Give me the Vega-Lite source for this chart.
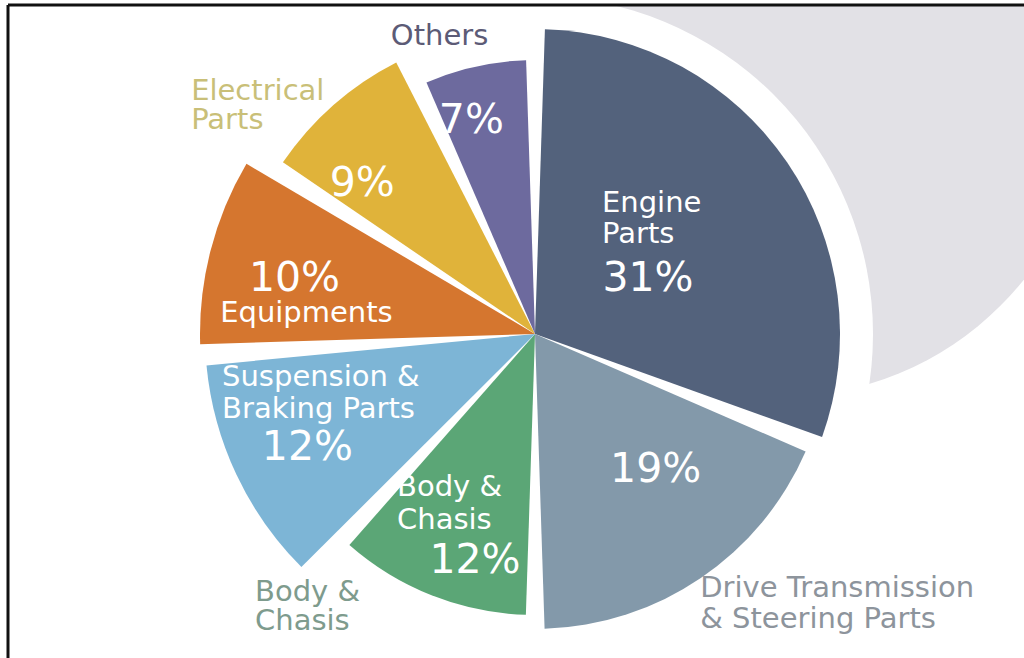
{
 "$schema": "https://vega.github.io/schema/vega-lite/v6.json",
 "width": 1016, "height": 653,
 "padding": {"left": 8, "top": 5, "right": 0, "bottom": 0},
 "autosize": {"type": "none"},
 "background": "white",
 "config": {"view": {"stroke": null}, "text": {"font": "DejaVu Sans"}},
 "data": {"values": [
  {"category": "Engine Parts", "value": 31, "pct": "31%", "inner": "Engine\nParts", "outer": ""},
  {"category": "Drive Transmission & Steering Parts", "value": 19, "pct": "19%", "inner": "", "outer": "Drive Transmission\n& Steering Parts"},
  {"category": "Body & Chasis", "value": 12, "pct": "12%", "inner": "Body &\nChasis", "outer": "Body &\nChasis"},
  {"category": "Suspension & Braking Parts", "value": 12, "pct": "12%", "inner": "Suspension &\nBraking Parts", "outer": ""},
  {"category": "Equipments", "value": 10, "pct": "10%", "inner": "Equipments", "outer": ""},
  {"category": "Electrical Parts", "value": 9, "pct": "9%", "inner": "", "outer": "Electrical\nParts"},
  {"category": "Others", "value": 7, "pct": "7%", "inner": "", "outer": "Others"}
 ]},
 "layer": [
  {"data": {"values": [{}]}, "mark": {"type": "arc", "theta": 0, "theta2": 6.2832, "outerRadius": 312, "color": "#e2e1e6", "clip": true},
   "encoding": {"x": {"datum": 780, "type": "quantitative", "scale": {"domain": [8, 1024], "nice": false, "zero": false}, "axis": null},
                "y": {"datum": 85, "type": "quantitative", "scale": {"domain": [5, 658], "nice": false, "zero": false, "reverse": true}, "axis": null}}},
  {"data": {"values": [{}]}, "mark": {"type": "arc", "theta": 0, "theta2": 6.2832, "outerRadius": 338, "color": "white"},
   "encoding": {"x": {"datum": 535, "type": "quantitative", "scale": {"domain": [8, 1024], "nice": false, "zero": false}, "axis": null},
                "y": {"datum": 334, "type": "quantitative", "scale": {"domain": [5, 658], "nice": false, "zero": false, "reverse": true}, "axis": null}}},
  {"transform": [{"stack": "value", "groupby": [], "sort": [{"field": "value", "order": "descending"}, {"field": "category", "order": "ascending"}], "as": ["start", "end"]}, {"filter": "datum.category === 'Engine Parts'"}],
   "mark": {"type": "arc", "outerRadius": 305, "padAngle": 0.065},
   "encoding": {"x": {"datum": 535, "type": "quantitative", "scale": {"domain": [8, 1024], "nice": false, "zero": false}, "axis": null},
                "y": {"datum": 334, "type": "quantitative", "scale": {"domain": [5, 658], "nice": false, "zero": false, "reverse": true}, "axis": null},
                "theta": {"field": "start", "type": "quantitative", "stack": null, "scale": {"domain": [0, 100]}}, "theta2": {"field": "end"},
                "color": {"field": "category", "type": "nominal", "legend": null, "scale": {"domain": ["Engine Parts", "Drive Transmission & Steering Parts", "Body & Chasis", "Suspension & Braking Parts", "Equipments", "Electrical Parts", "Others"], "range": ["#53627c", "#8399aa", "#5ba676", "#7db5d6", "#d5762f", "#e0b33a", "#6d6a9e"]}}}},
  {"transform": [{"stack": "value", "groupby": [], "sort": [{"field": "value", "order": "descending"}, {"field": "category", "order": "ascending"}], "as": ["start", "end"]}, {"filter": "datum.category === 'Drive Transmission & Steering Parts'"}],
   "mark": {"type": "arc", "outerRadius": 295, "padAngle": 0.065},
   "encoding": {"x": {"datum": 535, "type": "quantitative", "scale": {"domain": [8, 1024], "nice": false, "zero": false}, "axis": null},
                "y": {"datum": 334, "type": "quantitative", "scale": {"domain": [5, 658], "nice": false, "zero": false, "reverse": true}, "axis": null},
                "theta": {"field": "start", "type": "quantitative", "stack": null, "scale": {"domain": [0, 100]}}, "theta2": {"field": "end"},
                "color": {"field": "category", "type": "nominal", "legend": null}}},
  {"transform": [{"stack": "value", "groupby": [], "sort": [{"field": "value", "order": "descending"}, {"field": "category", "order": "ascending"}], "as": ["start", "end"]}, {"filter": "datum.category === 'Body & Chasis'"}],
   "mark": {"type": "arc", "outerRadius": 281, "padAngle": 0.065},
   "encoding": {"x": {"datum": 535, "type": "quantitative", "scale": {"domain": [8, 1024], "nice": false, "zero": false}, "axis": null},
                "y": {"datum": 334, "type": "quantitative", "scale": {"domain": [5, 658], "nice": false, "zero": false, "reverse": true}, "axis": null},
                "theta": {"field": "start", "type": "quantitative", "stack": null, "scale": {"domain": [0, 100]}}, "theta2": {"field": "end"},
                "color": {"field": "category", "type": "nominal", "legend": null}}},
  {"transform": [{"stack": "value", "groupby": [], "sort": [{"field": "value", "order": "descending"}, {"field": "category", "order": "ascending"}], "as": ["start", "end"]}, {"filter": "datum.category === 'Suspension & Braking Parts'"}],
   "mark": {"type": "arc", "outerRadius": 330, "padAngle": 0.065},
   "encoding": {"x": {"datum": 535, "type": "quantitative", "scale": {"domain": [8, 1024], "nice": false, "zero": false}, "axis": null},
                "y": {"datum": 334, "type": "quantitative", "scale": {"domain": [5, 658], "nice": false, "zero": false, "reverse": true}, "axis": null},
                "theta": {"field": "start", "type": "quantitative", "stack": null, "scale": {"domain": [0, 100]}}, "theta2": {"field": "end"},
                "color": {"field": "category", "type": "nominal", "legend": null}}},
  {"transform": [{"stack": "value", "groupby": [], "sort": [{"field": "value", "order": "descending"}, {"field": "category", "order": "ascending"}], "as": ["start", "end"]}, {"filter": "datum.category === 'Equipments'"}],
   "mark": {"type": "arc", "outerRadius": 335, "padAngle": 0.065},
   "encoding": {"x": {"datum": 535, "type": "quantitative", "scale": {"domain": [8, 1024], "nice": false, "zero": false}, "axis": null},
                "y": {"datum": 334, "type": "quantitative", "scale": {"domain": [5, 658], "nice": false, "zero": false, "reverse": true}, "axis": null},
                "theta": {"field": "start", "type": "quantitative", "stack": null, "scale": {"domain": [0, 100]}}, "theta2": {"field": "end"},
                "color": {"field": "category", "type": "nominal", "legend": null}}},
  {"transform": [{"stack": "value", "groupby": [], "sort": [{"field": "value", "order": "descending"}, {"field": "category", "order": "ascending"}], "as": ["start", "end"]}, {"filter": "datum.category === 'Electrical Parts'"}],
   "mark": {"type": "arc", "outerRadius": 305, "padAngle": 0.065},
   "encoding": {"x": {"datum": 535, "type": "quantitative", "scale": {"domain": [8, 1024], "nice": false, "zero": false}, "axis": null},
                "y": {"datum": 334, "type": "quantitative", "scale": {"domain": [5, 658], "nice": false, "zero": false, "reverse": true}, "axis": null},
                "theta": {"field": "start", "type": "quantitative", "stack": null, "scale": {"domain": [0, 100]}}, "theta2": {"field": "end"},
                "color": {"field": "category", "type": "nominal", "legend": null}}},
  {"transform": [{"stack": "value", "groupby": [], "sort": [{"field": "value", "order": "descending"}, {"field": "category", "order": "ascending"}], "as": ["start", "end"]}, {"filter": "datum.category === 'Others'"}],
   "mark": {"type": "arc", "outerRadius": 274, "padAngle": 0.065},
   "encoding": {"x": {"datum": 535, "type": "quantitative", "scale": {"domain": [8, 1024], "nice": false, "zero": false}, "axis": null},
                "y": {"datum": 334, "type": "quantitative", "scale": {"domain": [5, 658], "nice": false, "zero": false, "reverse": true}, "axis": null},
                "theta": {"field": "start", "type": "quantitative", "stack": null, "scale": {"domain": [0, 100]}}, "theta2": {"field": "end"},
                "color": {"field": "category", "type": "nominal", "legend": null}}},

  {"transform": [{"stack": "value", "groupby": [], "sort": [{"field": "value", "order": "descending"}, {"field": "category", "order": "ascending"}], "as": ["start", "end"]}, {"filter": "datum.category === 'Engine Parts'"}],
   "mark": {"type": "text", "dx": 113, "dy": 0, "align": "center", "baseline": "middle", "fontSize": 41, "color": "white"},
   "encoding": {"x": {"datum": 535, "type": "quantitative", "scale": {"domain": [8, 1024], "nice": false, "zero": false}, "axis": null},
                "y": {"datum": 334, "type": "quantitative", "scale": {"domain": [5, 658], "nice": false, "zero": false, "reverse": true}, "axis": null},
                "theta": {"field": "start", "type": "quantitative", "stack": null, "scale": {"domain": [0, 100]}},
                "radius": {"value": 55}, "text": {"field": "pct"}}},
  {"transform": [{"stack": "value", "groupby": [], "sort": [{"field": "value", "order": "descending"}, {"field": "category", "order": "ascending"}], "as": ["start", "end"]}, {"filter": "datum.category === 'Drive Transmission & Steering Parts'"}],
   "mark": {"type": "text", "dx": -30, "dy": 76, "align": "center", "baseline": "middle", "fontSize": 41, "color": "white"},
   "encoding": {"x": {"datum": 535, "type": "quantitative", "scale": {"domain": [8, 1024], "nice": false, "zero": false}, "axis": null},
                "y": {"datum": 334, "type": "quantitative", "scale": {"domain": [5, 658], "nice": false, "zero": false, "reverse": true}, "axis": null},
                "theta": {"field": "start", "type": "quantitative", "stack": null, "scale": {"domain": [0, 100]}},
                "radius": {"value": 162}, "text": {"field": "pct"}}},
  {"transform": [{"stack": "value", "groupby": [], "sort": [{"field": "value", "order": "descending"}, {"field": "category", "order": "ascending"}], "as": ["start", "end"]}, {"filter": "datum.category === 'Body & Chasis'"}],
   "mark": {"type": "text", "dx": -60, "dy": 0, "align": "center", "baseline": "middle", "fontSize": 41, "color": "white"},
   "encoding": {"x": {"datum": 535, "type": "quantitative", "scale": {"domain": [8, 1024], "nice": false, "zero": false}, "axis": null},
                "y": {"datum": 334, "type": "quantitative", "scale": {"domain": [5, 658], "nice": false, "zero": false, "reverse": true}, "axis": null},
                "theta": {"field": "start", "type": "quantitative", "stack": null, "scale": {"domain": [0, 100]}},
                "radius": {"value": 227}, "text": {"field": "pct"}}},
  {"transform": [{"stack": "value", "groupby": [], "sort": [{"field": "value", "order": "descending"}, {"field": "category", "order": "ascending"}], "as": ["start", "end"]}, {"filter": "datum.category === 'Suspension & Braking Parts'"}],
   "mark": {"type": "text", "dx": -64, "dy": -60, "align": "center", "baseline": "middle", "fontSize": 41, "color": "white"},
   "encoding": {"x": {"datum": 535, "type": "quantitative", "scale": {"domain": [8, 1024], "nice": false, "zero": false}, "axis": null},
                "y": {"datum": 334, "type": "quantitative", "scale": {"domain": [5, 658], "nice": false, "zero": false, "reverse": true}, "axis": null},
                "theta": {"field": "start", "type": "quantitative", "stack": null, "scale": {"domain": [0, 100]}},
                "radius": {"value": 239}, "text": {"field": "pct"}}},
  {"transform": [{"stack": "value", "groupby": [], "sort": [{"field": "value", "order": "descending"}, {"field": "category", "order": "ascending"}], "as": ["start", "end"]}, {"filter": "datum.category === 'Equipments'"}],
   "mark": {"type": "text", "dx": -5, "dy": -70, "align": "center", "baseline": "middle", "fontSize": 41, "color": "white"},
   "encoding": {"x": {"datum": 535, "type": "quantitative", "scale": {"domain": [8, 1024], "nice": false, "zero": false}, "axis": null},
                "y": {"datum": 334, "type": "quantitative", "scale": {"domain": [5, 658], "nice": false, "zero": false, "reverse": true}, "axis": null},
                "theta": {"field": "start", "type": "quantitative", "stack": null, "scale": {"domain": [0, 100]}},
                "radius": {"value": 236}, "text": {"field": "pct"}}},
  {"transform": [{"stack": "value", "groupby": [], "sort": [{"field": "value", "order": "descending"}, {"field": "category", "order": "ascending"}], "as": ["start", "end"]}, {"filter": "datum.category === 'Electrical Parts'"}],
   "mark": {"type": "text", "dx": 18, "dy": -29, "align": "center", "baseline": "middle", "fontSize": 41, "color": "white"},
   "encoding": {"x": {"datum": 535, "type": "quantitative", "scale": {"domain": [8, 1024], "nice": false, "zero": false}, "axis": null},
                "y": {"datum": 334, "type": "quantitative", "scale": {"domain": [5, 658], "nice": false, "zero": false, "reverse": true}, "axis": null},
                "theta": {"field": "start", "type": "quantitative", "stack": null, "scale": {"domain": [0, 100]}},
                "radius": {"value": 226}, "text": {"field": "pct"}}},
  {"transform": [{"stack": "value", "groupby": [], "sort": [{"field": "value", "order": "descending"}, {"field": "category", "order": "ascending"}], "as": ["start", "end"]}, {"filter": "datum.category === 'Others'"}],
   "mark": {"type": "text", "dx": 30, "dy": -14, "align": "center", "baseline": "middle", "fontSize": 41, "color": "white"},
   "encoding": {"x": {"datum": 535, "type": "quantitative", "scale": {"domain": [8, 1024], "nice": false, "zero": false}, "axis": null},
                "y": {"datum": 334, "type": "quantitative", "scale": {"domain": [5, 658], "nice": false, "zero": false, "reverse": true}, "axis": null},
                "theta": {"field": "start", "type": "quantitative", "stack": null, "scale": {"domain": [0, 100]}},
                "radius": {"value": 220}, "text": {"field": "pct"}}},

  {"transform": [{"stack": "value", "groupby": [], "sort": [{"field": "value", "order": "descending"}, {"field": "category", "order": "ascending"}], "as": ["start", "end"]}, {"filter": "datum.category === 'Engine Parts'"}],
   "mark": {"type": "text", "dx": 67, "dy": -16, "align": "left", "baseline": "middle", "fontSize": 29, "lineHeight": 31, "lineBreak": "\n", "color": "white"},
   "encoding": {"x": {"datum": 535, "type": "quantitative", "scale": {"domain": [8, 1024], "nice": false, "zero": false}, "axis": null},
                "y": {"datum": 334, "type": "quantitative", "scale": {"domain": [5, 658], "nice": false, "zero": false, "reverse": true}, "axis": null},
                "theta": {"field": "start", "type": "quantitative", "stack": null, "scale": {"domain": [0, 100]}},
                "radius": {"value": 115}, "text": {"field": "inner"}}},
  {"transform": [{"stack": "value", "groupby": [], "sort": [{"field": "value", "order": "descending"}, {"field": "category", "order": "ascending"}], "as": ["start", "end"]}, {"filter": "datum.category === 'Suspension & Braking Parts'"}],
   "mark": {"type": "text", "dx": -137, "dy": -144, "align": "left", "baseline": "middle", "fontSize": 29, "lineHeight": 32, "lineBreak": "\n", "color": "white"},
   "encoding": {"x": {"datum": 535, "type": "quantitative", "scale": {"domain": [8, 1024], "nice": false, "zero": false}, "axis": null},
                "y": {"datum": 334, "type": "quantitative", "scale": {"domain": [5, 658], "nice": false, "zero": false, "reverse": true}, "axis": null},
                "theta": {"field": "start", "type": "quantitative", "stack": null, "scale": {"domain": [0, 100]}},
                "radius": {"value": 257}, "text": {"field": "inner"}}},
  {"transform": [{"stack": "value", "groupby": [], "sort": [{"field": "value", "order": "descending"}, {"field": "category", "order": "ascending"}], "as": ["start", "end"]}, {"filter": "datum.category === 'Body & Chasis'"}],
   "mark": {"type": "text", "dx": -138, "dy": -17, "align": "left", "baseline": "middle", "fontSize": 29, "lineHeight": 33, "lineBreak": "\n", "color": "white"},
   "encoding": {"x": {"datum": 535, "type": "quantitative", "scale": {"domain": [8, 1024], "nice": false, "zero": false}, "axis": null},
                "y": {"datum": 334, "type": "quantitative", "scale": {"domain": [5, 658], "nice": false, "zero": false, "reverse": true}, "axis": null},
                "theta": {"field": "start", "type": "quantitative", "stack": null, "scale": {"domain": [0, 100]}},
                "radius": {"value": 170}, "text": {"field": "inner"}}},
  {"transform": [{"stack": "value", "groupby": [], "sort": [{"field": "value", "order": "descending"}, {"field": "category", "order": "ascending"}], "as": ["start", "end"]}, {"filter": "datum.category === 'Equipments'"}],
   "mark": {"type": "text", "dx": -2, "dy": -35, "align": "center", "baseline": "middle", "fontSize": 29, "lineHeight": 31, "lineBreak": "\n", "color": "white"},
   "encoding": {"x": {"datum": 535, "type": "quantitative", "scale": {"domain": [8, 1024], "nice": false, "zero": false}, "axis": null},
                "y": {"datum": 334, "type": "quantitative", "scale": {"domain": [5, 658], "nice": false, "zero": false, "reverse": true}, "axis": null},
                "theta": {"field": "start", "type": "quantitative", "stack": null, "scale": {"domain": [0, 100]}},
                "radius": {"value": 227}, "text": {"field": "inner"}}},

  {"transform": [{"stack": "value", "groupby": [], "sort": [{"field": "value", "order": "descending"}, {"field": "category", "order": "ascending"}], "as": ["start", "end"]}, {"filter": "datum.category === 'Others'"}],
   "mark": {"type": "text", "dx": 37, "dy": -17, "align": "center", "baseline": "middle", "fontSize": 29, "lineHeight": 31, "lineBreak": "\n", "color": "#5c5b76"},
   "encoding": {"x": {"datum": 535, "type": "quantitative", "scale": {"domain": [8, 1024], "nice": false, "zero": false}, "axis": null},
                "y": {"datum": 334, "type": "quantitative", "scale": {"domain": [5, 658], "nice": false, "zero": false, "reverse": true}, "axis": null},
                "theta": {"field": "start", "type": "quantitative", "stack": null, "scale": {"domain": [0, 100]}},
                "radius": {"value": 311}, "text": {"field": "outer"}}},
  {"transform": [{"stack": "value", "groupby": [], "sort": [{"field": "value", "order": "descending"}, {"field": "category", "order": "ascending"}], "as": ["start", "end"]}, {"filter": "datum.category === 'Electrical Parts'"}],
   "mark": {"type": "text", "dx": 4, "dy": -22, "align": "left", "baseline": "middle", "fontSize": 29, "lineHeight": 29, "lineBreak": "\n", "color": "#c9bf78"},
   "encoding": {"x": {"datum": 535, "type": "quantitative", "scale": {"domain": [8, 1024], "nice": false, "zero": false}, "axis": null},
                "y": {"datum": 334, "type": "quantitative", "scale": {"domain": [5, 658], "nice": false, "zero": false, "reverse": true}, "axis": null},
                "theta": {"field": "start", "type": "quantitative", "stack": null, "scale": {"domain": [0, 100]}},
                "radius": {"value": 412}, "text": {"field": "outer"}}},
  {"transform": [{"stack": "value", "groupby": [], "sort": [{"field": "value", "order": "descending"}, {"field": "category", "order": "ascending"}], "as": ["start", "end"]}, {"filter": "datum.category === 'Body & Chasis'"}],
   "mark": {"type": "text", "dx": -280, "dy": -15, "align": "left", "baseline": "middle", "fontSize": 29, "lineHeight": 29, "lineBreak": "\n", "color": "#7e9b8d"},
   "encoding": {"x": {"datum": 535, "type": "quantitative", "scale": {"domain": [8, 1024], "nice": false, "zero": false}, "axis": null},
                "y": {"datum": 334, "type": "quantitative", "scale": {"domain": [5, 658], "nice": false, "zero": false, "reverse": true}, "axis": null},
                "theta": {"field": "start", "type": "quantitative", "stack": null, "scale": {"domain": [0, 100]}},
                "radius": {"value": 273}, "text": {"field": "outer"}}},
  {"transform": [{"stack": "value", "groupby": [], "sort": [{"field": "value", "order": "descending"}, {"field": "category", "order": "ascending"}], "as": ["start", "end"]}, {"filter": "datum.category === 'Drive Transmission & Steering Parts'"}],
   "mark": {"type": "text", "dx": -70, "dy": 161, "align": "left", "baseline": "middle", "fontSize": 29, "lineHeight": 31, "lineBreak": "\n", "color": "#8d949c"},
   "encoding": {"x": {"datum": 535, "type": "quantitative", "scale": {"domain": [8, 1024], "nice": false, "zero": false}, "axis": null},
                "y": {"datum": 334, "type": "quantitative", "scale": {"domain": [5, 658], "nice": false, "zero": false, "reverse": true}, "axis": null},
                "theta": {"field": "start", "type": "quantitative", "stack": null, "scale": {"domain": [0, 100]}},
                "radius": {"value": 253}, "text": {"field": "outer"}}},

  {"data": {"values": [{}]}, "mark": {"type": "rule", "color": "#111111", "strokeWidth": 3},
   "encoding": {"y": {"datum": 5, "type": "quantitative", "scale": {"domain": [5, 658], "nice": false, "zero": false, "reverse": true}, "axis": null}}},
  {"data": {"values": [{}]}, "mark": {"type": "rule", "color": "#111111", "strokeWidth": 3},
   "encoding": {"x": {"datum": 8, "type": "quantitative", "scale": {"domain": [8, 1024], "nice": false, "zero": false}, "axis": null}}}
 ]
}
